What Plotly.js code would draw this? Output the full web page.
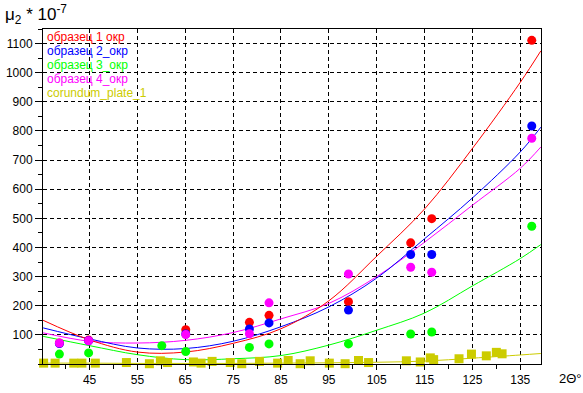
<!DOCTYPE html>
<html>
<head>
<meta charset="utf-8">
<script src="https://cdn.plot.ly/plotly-3.0.1.min.js"></script>
<style>html,body{margin:0;padding:0;background:#fff;}#chart{width:583px;height:393px;}</style>
</head>
<body>
<div id="chart"></div>
<script>
// ---- data ----
const seriesNames = ['образец 1 окр', 'образец 2_окр', 'образец 3_окр', 'образец 4_окр', 'corundum_plate_1'];
const seriesColors = ['#ff0000', '#0000ff', '#00ff00', '#ff00ff', '#cccc00'];

// measured points
const ptsX    = [38.7, 44.8, 65.1, 78.4, 82.5, 99.1, 112.1, 116.5, 137.4];
const redPts  = [72, 82, 118, 143, 167, 214, 416, 499, 1111];
const bluePts = [70, 80, 103, 120, 141, 185, 376, 376, 817];
const magPts  = [72, 80, 101, 104, 210, 309, 332, 315, 775];
const greenX  = [38.7, 44.8, 60.1, 65.1, 78.4, 82.5, 99.1, 112.1, 116.5, 137.4];
const greenPts= [34, 38, 63, 43, 57, 69, 69, 103, 110, 473];
const corX = [35.4, 37.8, 41.7, 43.4, 46.2, 52.7, 57.5, 59.8, 61.3, 66.7, 68.3, 70.6, 74.4, 76.8, 80.5, 84.3, 86.5, 89.0, 91.1, 95.1, 98.4, 101.2, 103.3, 111.2, 114.1, 116.2, 116.9, 122.2, 124.8, 127.9, 130.0, 131.2];
const corY = [3, 3, 3, 3, 3, 5, 1, 11, 5, 7, 3, 9, 5, 1, 9, 3, 12, 1, 11, 3, 1, 12, 5, 11, 7, 21, 15, 18, 34, 28, 40, 35];

// fitted curves
const fitX     = [35.3, 45, 55, 65, 75, 85, 95, 105, 115, 125, 135, 139.3];
const redFit   = [150, 83, 41, 41, 71, 121, 217, 370, 532, 740, 967, 1075];
const blueFit  = [124, 86, 55, 53, 78, 128, 196, 295, 430, 570, 728, 813];
const greenFit = [95, 63, 32, 15, 18, 29, 65, 116, 175, 268, 362, 410];
const magFit   = [107, 78, 72, 81, 108, 155, 208, 300, 418, 545, 672, 745];
const corFit   = [3, 3, 2, 2, 2, 3, 4, 6, 10, 20, 31, 36];

const xTicks = [45, 55, 65, 75, 85, 95, 105, 115, 125, 135];
const yTicks = [100, 200, 300, 400, 500, 600, 700, 800, 900, 1000, 1100];

// ---- traces ----
function fitTrace(y, color, x) {
  return {x: x || fitX, y: y, mode: 'lines', type: 'scatter',
          line: {color: color, width: 1, shape: 'spline', smoothing: 1}, hoverinfo: 'skip'};
}
function ptTrace(x, y, color, symbol, size, clip) {
  return {x: x, y: y, mode: 'markers', type: 'scatter', cliponaxis: clip,
          marker: {color: color, size: size, symbol: symbol, line: {width: 0}}};
}
const traces = [
  fitTrace(corFit, seriesColors[4]),
  fitTrace(greenFit, seriesColors[2]),
  fitTrace(magFit, seriesColors[3]),
  fitTrace(blueFit, seriesColors[1]),
  fitTrace(redFit, seriesColors[0]),
  ptTrace(corX, corY, seriesColors[4], 'square', 9, false),
  ptTrace(ptsX, redPts, seriesColors[0], 'circle', 9, true),
  ptTrace(ptsX, bluePts, seriesColors[1], 'circle', 9, true),
  ptTrace(greenX, greenPts, seriesColors[2], 'circle', 9, true),
  ptTrace(ptsX, magPts, seriesColors[3], 'circle', 9, true)
];

// ---- layout ----
const L = 43, T = 29, W = 498, H = 335;
const px2x = p => (p - L) / W;
const py2y = p => (T + H - p) / H;
const font = 'Liberation Sans, Arial, sans-serif';

const annotations = seriesNames.map((n, i) => ({
  text: n, xref: 'paper', yref: 'paper', x: px2x(45), y: py2y(37 + i * 13.9),
  xanchor: 'left', yanchor: 'middle', showarrow: false,
  font: {family: font, size: 12, color: seriesColors[i]}
}));
annotations.push({
  text: 'μ<sub>2</sub> * 10<sup>-7</sup>', xref: 'paper', yref: 'paper',
  x: px2x(3), y: py2y(0), xanchor: 'left', yanchor: 'top', showarrow: false,
  font: {family: font, size: 17, color: '#000'}
});
annotations.push({
  text: '2Θ°', xref: 'paper', yref: 'paper',
  x: px2x(557), y: py2y(378), xanchor: 'left', yanchor: 'middle', showarrow: false,
  font: {family: font, size: 13, color: '#000'}
});

const axisCommon = {
  showline: true, mirror: true, linecolor: '#000', linewidth: 1,
  ticks: 'outside', ticklen: 7, tickcolor: '#000', tickwidth: 1,
  showgrid: true, gridcolor: '#000', gridwidth: 1, griddash: '4px,3px',
  zeroline: false, tickfont: {family: font, size: 12, color: '#000'}
};

const layout = {
  width: 583, height: 393,
  margin: {l: L, r: 583 - L - W, t: T, b: 393 - T - H, pad: 0},
  paper_bgcolor: '#fff', plot_bgcolor: '#fff',
  showlegend: false,
  font: {family: font, size: 12, color: '#000'},
  xaxis: Object.assign({}, axisCommon, {
    range: [35.27, 139.33], tickmode: 'array', tickvals: xTicks, ticktext: xTicks.map(String),
    ticklen: 5,
    minor: {ticks: 'outside', ticklen: 4, tickcolor: '#000', tick0: 35, dtick: 5, showgrid: false}
  }),
  yaxis: Object.assign({}, axisCommon, {
    range: [0, 1150], tickmode: 'array', tickvals: yTicks, ticktext: yTicks.map(String),
    minor: {ticks: 'outside', ticklen: 4, tickcolor: '#000', tick0: 0, dtick: 50, showgrid: false}
  }),
  annotations: annotations
};

Plotly.newPlot('chart', traces, layout, {staticPlot: true, displayModeBar: false});
</script>
</body>
</html>
